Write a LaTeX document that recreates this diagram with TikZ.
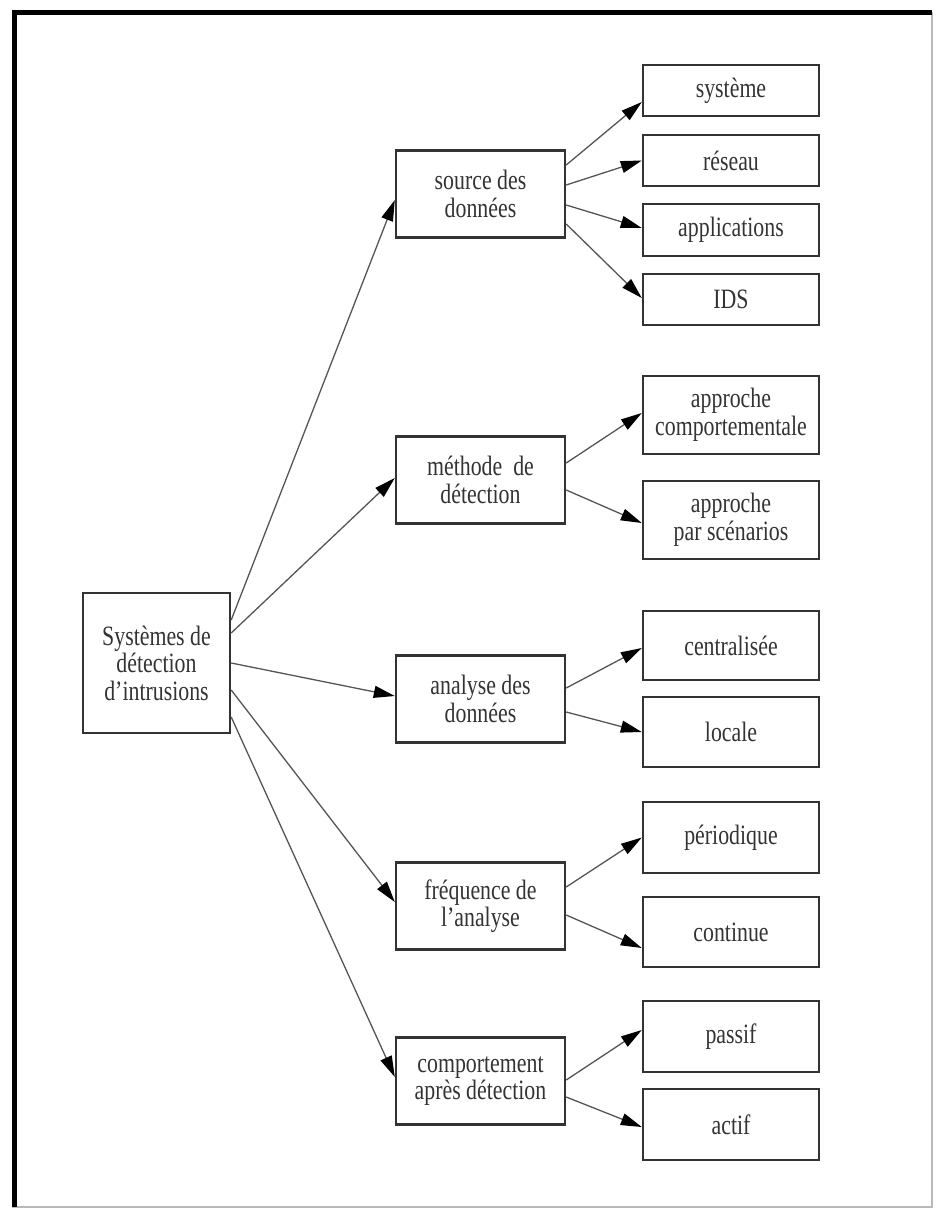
\documentclass[tikz,border=0pt]{standalone}
\usepackage{fontspec}
\setmainfont{Liberation Serif}[FakeStretch=0.78]
\usetikzlibrary{arrows.meta}
\definecolor{trait}{HTML}{333333}
\definecolor{fil}{HTML}{555555}
\begin{document}
\begin{tikzpicture}[x=1pt,y=-1pt,> = {Triangle[length=21pt,width=12pt,color=black,fill=black]},
  boite/.style={draw=trait,line width=2.4pt,text=trait,inner sep=0pt,align=center,
    font=\fontsize{28}{27.5}\selectfont},
  fleche/.style={->,draw=fil,line width=1.3pt}]
	\useasboundingbox (0,0) rectangle (936,1213);
	\draw[gray!55,line width=1.5pt] (13,13) rectangle (932,1207);
	\draw[line width=5pt] (14,1207)--(14,12)--(932,12);
			%%%%%%%%
	\node[boite,minimum width=147,minimum height=140] (root) at (156.5,663) {Systèmes de\\détection\\d’intrusions};
	\foreach \n/\y/\t in {src/194/source des\\données, meth/480/méthode~ de\\détection,
	    ana/699/analyse des\\données, freq/906/fréquence de\\l’analyse, comp/1081/comportement\\après détection}
		\node[boite,minimum width=169,minimum height=87] (\n) at (480.5,\y) {\t};
			%%%%%%%%
	\foreach \n/\y/\h/\t in {sys/90.5/51/système, res/160.5/51/réseau, app/230/52/applications, ids/299.5/51/IDS,
	    acomp/415/78/approche\\comportementale, ascen/520/78/approche\\par scénarios,
	    cent/645.5/69/centralisée, loc/732/70/locale, per/837.5/71/périodique, cont/932/70/continue,
	    pas/1036.5/71/passif, act/1124.5/71/actif}
		\node[boite,minimum width=176,minimum height=\h] (\n) at (731,\y) {\t};
			%%%%%%%%
	\foreach \a/\da/\b/\db in {root/43/src/-6, root/30/meth/2, root/0/ana/3, root/-27/freq/4, root/-54/comp/4,
	    src/29/sys/-11.5, src/9/res/0, src/-11/app/2, src/-30/ids/1.5,
	    meth/17/acomp/2, meth/-10/ascen/-3, ana/11/cent/-2.5, ana/-13/loc/0,
	    freq/19/per/0, freq/-9/cont/-16, comp/1/pas/6.5, comp/-16/act/-2.5}
		\draw[fleche] ([yshift=\da pt]\a.east) -- ([yshift=\db pt]\b.west);
\end{tikzpicture}
\end{document}
